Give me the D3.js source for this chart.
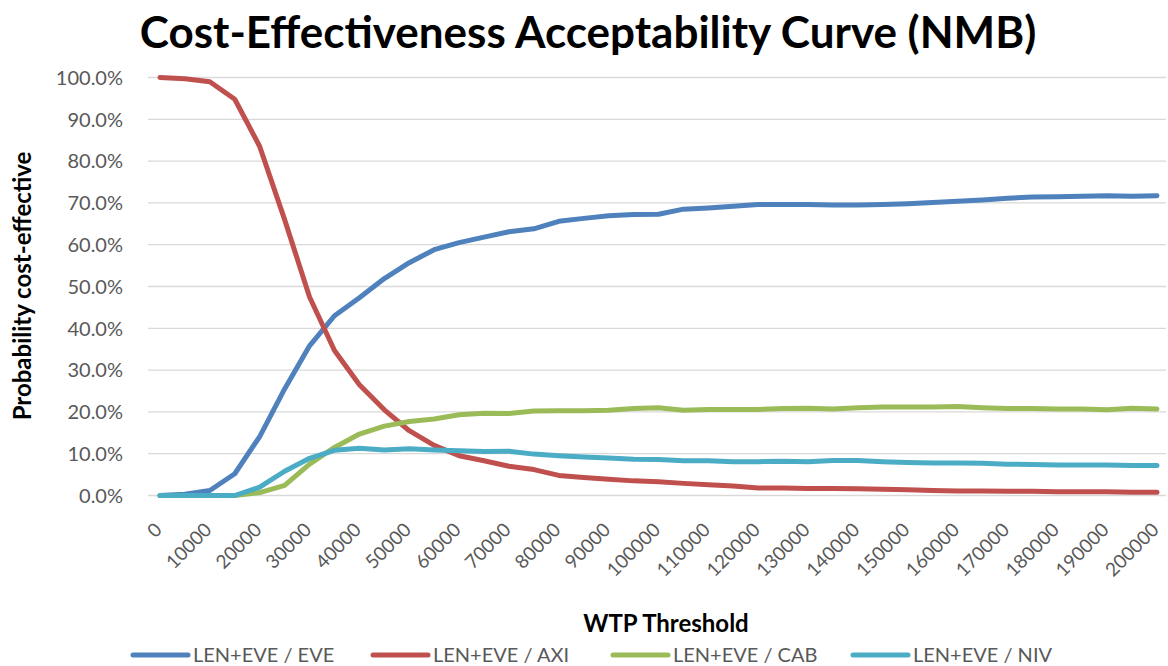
<!DOCTYPE html>
<html><head><meta charset="utf-8">
<script src="https://cdn.jsdelivr.net/npm/d3@7"></script>
<style>html,body{margin:0;padding:0;background:#fff}</style>
</head><body>
<svg id="chart" width="1168" height="666"></svg>
<script>
const wtp = [0,5000,10000,15000,20000,25000,30000,35000,40000,45000,50000,55000,60000,65000,70000,75000,80000,85000,90000,95000,100000,105000,110000,115000,120000,125000,130000,135000,140000,145000,150000,155000,160000,165000,170000,175000,180000,185000,190000,195000,200000];
const seriesNames = ["LEN+EVE / EVE","LEN+EVE / AXI","LEN+EVE / CAB","LEN+EVE / NIV"];
const eve = [0,0.3,1.2,5.2,14.1,25.5,35.8,43.0,47.3,51.9,55.7,58.8,60.5,61.8,63.1,63.8,65.6,66.3,66.9,67.2,67.3,68.5,68.8,69.2,69.6,69.6,69.6,69.5,69.5,69.6,69.8,70.1,70.4,70.7,71.1,71.4,71.5,71.6,71.7,71.6,71.7];
const axi = [100,99.7,99.0,94.8,83.5,66.0,47.5,34.7,26.5,20.5,15.5,12.0,9.5,8.3,7.0,6.2,4.8,4.3,3.9,3.5,3.3,2.9,2.6,2.3,1.8,1.8,1.7,1.7,1.6,1.5,1.4,1.2,1.1,1.1,1.0,1.0,0.9,0.9,0.9,0.8,0.8];
const cab = [0,0,0,0,0.7,2.4,7.5,11.5,14.7,16.6,17.7,18.3,19.3,19.7,19.6,20.2,20.3,20.3,20.4,20.8,21.0,20.4,20.6,20.6,20.6,20.8,20.9,20.7,21.0,21.2,21.2,21.2,21.3,21.0,20.8,20.8,20.7,20.7,20.5,20.9,20.7];
const niv = [0,0,0,0,2.0,5.8,8.9,10.8,11.3,10.9,11.2,10.9,10.7,10.5,10.6,9.9,9.5,9.2,9.0,8.7,8.6,8.3,8.3,8.1,8.1,8.2,8.1,8.4,8.4,8.1,7.9,7.8,7.8,7.7,7.5,7.4,7.3,7.3,7.3,7.2,7.2];
const yTicks = [0,10,20,30,40,50,60,70,80,90,100];
const xTickLabels = [0,10000,20000,30000,40000,50000,60000,70000,80000,90000,100000,110000,120000,130000,140000,150000,160000,170000,180000,190000,200000];
const colors = ["#4F81BD","#C0504D","#9BBB59","#4BACC6"];

const FONT = "Lato, 'Open Sans', sans-serif";
const svg = d3.select("#chart");
const x = d3.scalePoint().domain(wtp).range([160, 1157]);
const y = d3.scaleLinear().domain([0, 100]).range([495.5, 77.5]);

// gridlines
svg.append("g").selectAll("line").data(yTicks).join("line")
  .attr("x1", 148).attr("x2", 1166)
  .attr("y1", d => y(d)).attr("y2", d => y(d))
  .attr("stroke", "#d9d9d9").attr("stroke-width", 1.3);

// y labels
svg.append("g").selectAll("text").data(yTicks).join("text")
  .attr("x", 123).attr("y", d => y(d)).attr("dy", "0.36em")
  .attr("text-anchor", "end")
  .attr("font-family", FONT).attr("font-size", 20).attr("fill", "#595959")
  .text(d => d.toFixed(1) + "%");

// x labels
svg.append("g").selectAll("text").data(xTickLabels).join("text")
  .attr("transform", d => `translate(${x(d) + 3},${531}) rotate(-45)`)
  .attr("text-anchor", "end")
  .attr("font-family", FONT).attr("font-size", 19).attr("fill", "#595959")
  .text(d => d);

// lines
const data = [eve, axi, cab, niv];
const line = d3.line().x((d, i) => x(wtp[i])).y(d => y(d));
svg.append("g").selectAll("path").data(data).join("path")
  .attr("d", line).attr("fill", "none")
  .attr("stroke", (d, i) => colors[i]).attr("stroke-width", 5)
  .attr("stroke-linejoin", "round").attr("stroke-linecap", "round");

// titles
svg.append("text").attr("x", 588).attr("y", 48).attr("text-anchor", "middle")
  .attr("font-family", FONT).attr("font-weight", "bold").attr("font-size", 44).attr("fill", "#000")
  .text("Cost-Effectiveness Acceptability Curve (NMB)");
svg.append("text").attr("x", 666).attr("y", 632).attr("text-anchor", "middle")
  .attr("font-family", FONT).attr("font-weight", "bold").attr("font-size", 24).attr("fill", "#000")
  .text("WTP Threshold");
svg.append("text").attr("transform", "translate(31,286) rotate(-90)").attr("text-anchor", "middle")
  .attr("font-family", FONT).attr("font-weight", "bold").attr("font-size", 24).attr("fill", "#000")
  .text("Probability cost-effective");

// legend
const legX = [133, 373, 613, 853];
const leg = svg.append("g").selectAll("g").data(seriesNames).join("g")
  .attr("transform", (d, i) => `translate(${legX[i]},655)`);
leg.append("line").attr("x1", 0).attr("x2", 55).attr("y1", 0).attr("y2", 0)
  .attr("stroke", (d, i) => colors[i]).attr("stroke-width", 5).attr("stroke-linecap", "round");
leg.append("text").attr("x", 60).attr("y", 0).attr("dy", "0.36em")
  .attr("font-family", FONT).attr("font-size", 20).attr("fill", "#595959")
  .text(d => d);
</script>
</body></html>
